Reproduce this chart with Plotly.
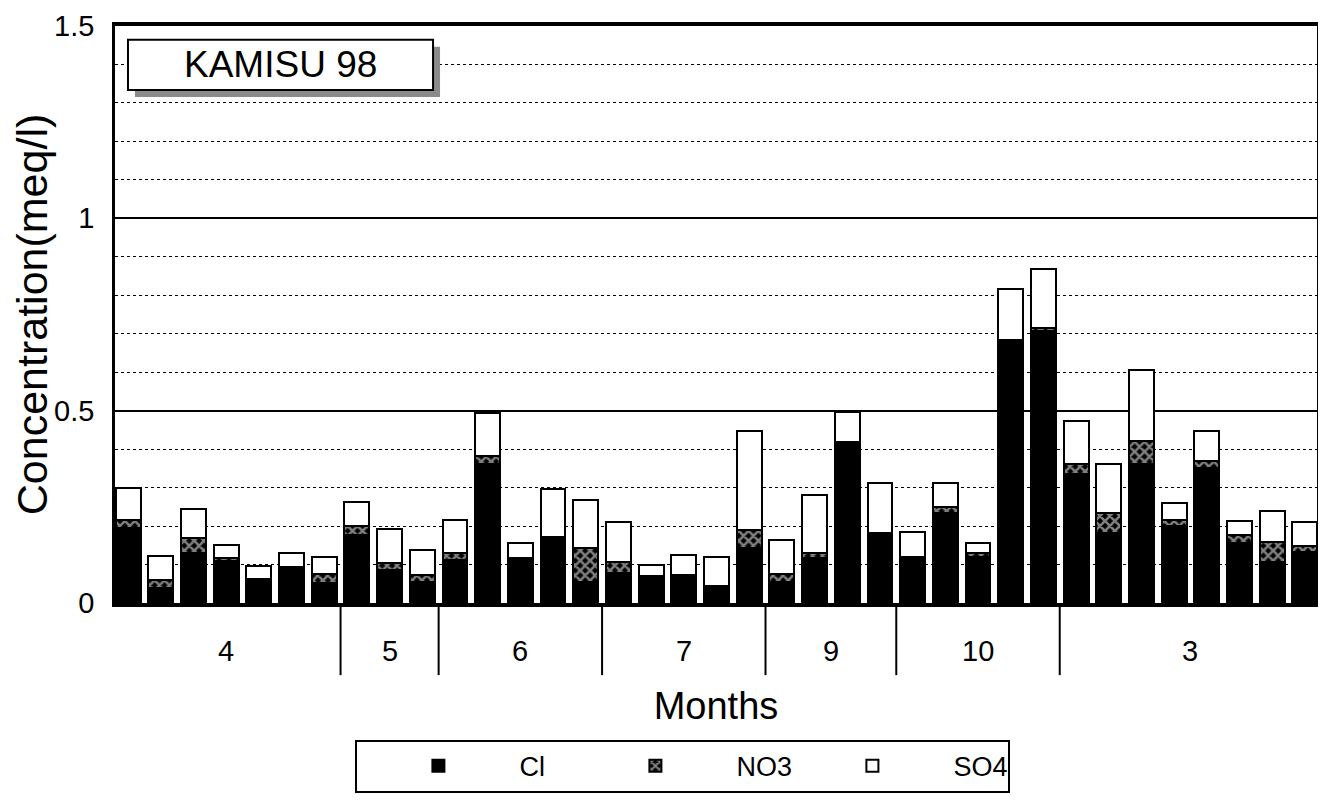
import plotly.graph_objects as go

# ---- data ----
month_labels = ["4", "5", "6", "7", "9", "10", "3"]
month_counts = [7, 3, 5, 5, 4, 5, 8]

cl = [0.195, 0.040, 0.130, 0.110, 0.060, 0.088, 0.052,
      0.178, 0.087, 0.055,
      0.112, 0.362, 0.115, 0.170, 0.055,
      0.078, 0.068, 0.072, 0.042, 0.143,
      0.055, 0.118, 0.415, 0.180,
      0.118, 0.235, 0.120, 0.678, 0.708,
      0.336, 0.181, 0.362, 0.200, 0.350, 0.155, 0.106, 0.132]
no3 = [0.020, 0.020, 0.040, 0.008, 0.002, 0.006, 0.023,
       0.022, 0.016, 0.018,
       0.017, 0.021, 0.003, 0.002, 0.087,
       0.028, 0.003, 0.002, 0.001, 0.048,
       0.020, 0.011, 0.003, 0.003,
       0.002, 0.014, 0.009, 0.006, 0.007,
       0.026, 0.052, 0.058, 0.015, 0.018, 0.021, 0.052, 0.016]
so4 = [0.085, 0.062, 0.075, 0.032, 0.035, 0.036, 0.045,
       0.062, 0.090, 0.064,
       0.086, 0.110, 0.038, 0.125, 0.125,
       0.104, 0.027, 0.051, 0.077, 0.257,
       0.090, 0.151, 0.078, 0.129,
       0.064, 0.064, 0.026, 0.132, 0.153,
       0.112, 0.129, 0.186, 0.044, 0.078, 0.036, 0.080, 0.062]

title_text = "KAMISU 98"

x = list(range(len(cl)))
FONT = "Liberation Sans, Arial, sans-serif"

fig = go.Figure()
fig.add_trace(go.Bar(x=x, y=cl, name="Cl",
                     marker=dict(color="black", line=dict(color="black", width=2))))
fig.add_trace(go.Bar(x=x, y=no3, name="NO3",
                     marker=dict(color="black", line=dict(color="black", width=2),
                                 pattern=dict(shape="x", fgcolor="white", bgcolor="black",
                                              size=7, solidity=0.6))))
fig.add_trace(go.Bar(x=x, y=so4, name="SO4",
                     marker=dict(color="white", line=dict(color="black", width=2))))

# month band beneath the axis
shapes = []
annotations = []
start = 0
for i, (lab, n) in enumerate(zip(month_labels, month_counts)):
    center = start + (n - 1) / 2
    annotations.append(dict(x=center, y=-0.083, xref="x", yref="paper", text=lab,
                            xanchor="center", yanchor="middle",
                            showarrow=False, font=dict(size=29, color="black", family=FONT)))
    end = start + n
    if i < len(month_counts) - 1:
        shapes.append(dict(type="line", xref="x", yref="paper", x0=end - 0.5, x1=end - 0.5,
                           y0=0, y1=-0.125, line=dict(color="black", width=2)))
    start = end

# title box with shadow
shapes.append(dict(type="rect", xref="paper", yref="paper", x0=0.0166, x1=0.2704,
                   y0=0.877, y1=0.964, fillcolor="#8a8a8a", line=dict(width=0), layer="above"))
shapes.append(dict(type="rect", xref="paper", yref="paper", x0=0.0108, x1=0.2646,
                   y0=0.889, y1=0.976, fillcolor="white", line=dict(color="black", width=2),
                   layer="above"))
annotations.append(dict(x=0.138, y=0.934, xref="paper", yref="paper", text=title_text,
                        xanchor="center", yanchor="middle",
                        showarrow=False, font=dict(size=37, color="black", family=FONT)))

fig.update_layout(
    width=1310, height=799,
    margin=dict(l=107, r=1, t=18, b=204),
    paper_bgcolor="white", plot_bgcolor="white",
    barmode="stack", bargap=0.24,
    font=dict(family=FONT, color="black"),
    shapes=shapes, annotations=annotations,
    showlegend=True,
    legend=dict(orientation="h", x=0.2, xanchor="left", y=-0.237, yanchor="top",
                bordercolor="black", borderwidth=2, bgcolor="white",
                font=dict(size=27, family=FONT), entrywidth=50, itemwidth=152,
                traceorder="normal"),
)
fig.update_xaxes(range=[-0.40, 36.37], showticklabels=False, ticks="", showgrid=False,
                 showline=True, linecolor="black", linewidth=4, mirror=True, zeroline=False,
                 automargin=False,
                 title=dict(text="Months", font=dict(size=38, family=FONT), standoff=87))
fig.update_yaxes(range=[0, 1.5], tick0=0, dtick=0.5, showgrid=True, gridcolor="black",
                 gridwidth=1.5, zeroline=False, automargin=False,
                 minor=dict(dtick=0.1, showgrid=True, gridcolor="black", griddash="dot",
                            gridwidth=1),
                 showline=True, linecolor="black", linewidth=2.5, mirror=True,
                 ticks="outside", ticklen=12, tickcolor="rgba(0,0,0,0)",
                 ticklabeloverflow="allow",
                 tickfont=dict(size=29, family=FONT),
                 title=dict(text="Concentration(meq/l)", font=dict(size=43, family=FONT),
                            standoff=8))

fig.write_html("out.html")
